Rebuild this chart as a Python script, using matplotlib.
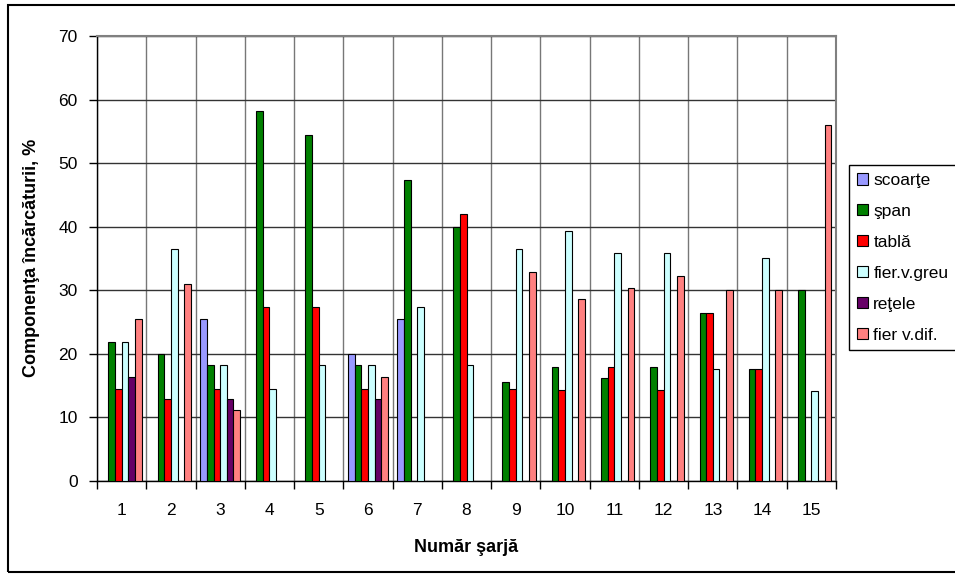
import numpy as np
import matplotlib
matplotlib.use("Agg")
import matplotlib.pyplot as plt
from matplotlib.patches import Rectangle

plt.rcParams["font.family"] = ["Liberation Sans", "DejaVu Sans"]

nan = np.nan
charges = list(range(1, 16))
series = ["scoarţe", "şpan", "tablă", "fier.v.greu", "reţele", "fier v.dif."]
colors = ["#9999FF", "#008000", "#FF0000", "#CCFFFF", "#660066", "#FF8080"]

scoarte = [nan, nan, 25.5, nan, nan, 20.0, 25.5, nan, nan, nan, nan, nan, nan, nan, nan]
span = [21.8, 20.0, 18.2, 58.2, 54.5, 18.2, 47.3, 40.0, 15.6, 18.0, 16.2, 18.0, 26.4, 17.6, 30.0]
tabla = [14.5, 12.9, 14.5, 27.3, 27.3, 14.5, nan, 42.0, 14.5, 14.3, 18.0, 14.3, 26.4, 17.6, nan]
fier_greu = [21.8, 36.5, 18.2, 14.5, 18.2, 18.2, 27.3, 18.2, 36.5, 39.3, 35.9, 35.9, 17.6, 35.1, 14.2]
retele = [16.4, nan, 12.9, nan, nan, 12.9, nan, nan, nan, nan, nan, nan, nan, nan, nan]
fier_dif = [25.5, 31.0, 11.1, nan, nan, 16.4, nan, nan, 32.8, 28.6, 30.4, 32.2, 30.0, 30.0, 56.0]

values = [scoarte, span, tabla, fier_greu, retele, fier_dif]

W, H = 955, 575
fig = plt.figure(figsize=(W / 100, H / 100), dpi=100)
ax = fig.add_axes([97 / W, 1 - 481 / H, (836 - 97) / W, (481 - 36) / H])

x = np.array(charges, dtype=float)
bw = 1 / 7.4
for k, (name, vals, c) in enumerate(zip(series, values, colors)):
    ax.bar(x + (k - 2.5) * bw, vals, width=bw, color=c, edgecolor="black",
           linewidth=0.8, label=name, zorder=3)

ax.set_xlim(0.5, 15.5)
ax.set_ylim(0, 70)
ax.set_yticks(range(0, 71, 10))
ax.set_xticks(np.arange(0.5, 16, 1))
ax.set_xticklabels([])
ax.set_xticks(x, minor=True)
ax.set_xticklabels([str(c) for c in charges], minor=True)
ax.tick_params(axis="x", which="major", direction="out", length=6, width=1)
ax.tick_params(axis="x", which="minor", length=0, pad=16, labelsize=12.5)
ax.tick_params(axis="y", direction="out", length=6, width=1, pad=8, labelsize=12.5)

ax.grid(axis="y", color="#333333", linewidth=1, zorder=0)
ax.grid(axis="x", which="major", color="#777777", linewidth=1, zorder=0)
ax.set_axisbelow(True)
for s in ["left", "bottom"]:
    ax.spines[s].set_color("black")
    ax.spines[s].set_linewidth(1)
for s in ["top", "right"]:
    ax.spines[s].set_color("#808080")
    ax.spines[s].set_linewidth(1.5)

fig.text(466 / W, 1 - 548 / H, "Număr şarjă", ha="center", va="center",
         fontsize=13, fontweight="bold")
fig.text(32 / W, 1 - 258 / H, "Componenţa încărcăturii, %", ha="center", va="center",
         rotation=90, fontsize=13, fontweight="bold")

leg = ax.legend(loc="upper left", bbox_to_anchor=(849 / W, 1 - 165 / H),
                bbox_transform=fig.transFigure, borderaxespad=0, fancybox=False,
                edgecolor="black", framealpha=1, fontsize=12.5, handlelength=0.65,
                handleheight=0.65, handletextpad=0.3, labelspacing=0.92, borderpad=0.45)
leg.get_frame().set_linewidth(1)

fig.patches.append(Rectangle((8 / W, 1 - 572 / H), (W - 4) / W, 567 / H,
                             transform=fig.transFigure, fill=False,
                             edgecolor="black", linewidth=1.5))

fig.savefig("out.png", dpi=100)
